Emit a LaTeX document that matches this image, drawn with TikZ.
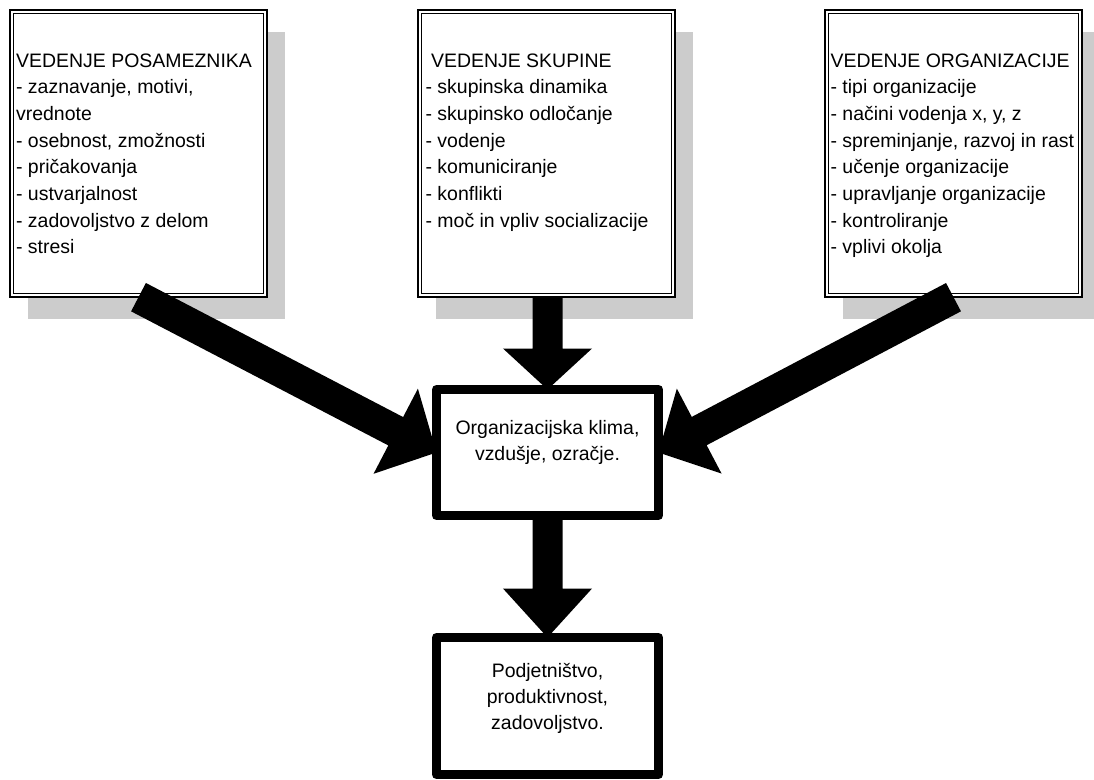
\documentclass[tikz,border=0pt]{standalone}
\usepackage{fontspec}
\setmainfont{Liberation Sans}
\usetikzlibrary{calc}
\definecolor{shadowgray}{RGB}{204,204,204}
\pgfdeclarelayer{bg}
\pgfdeclarelayer{fg}
\pgfsetlayers{bg,main,fg}
% block arrow: tail, tip, shaft half width, head half width, head length
\newcommand\fatarrow[5]{%
  \coordinate (fa-base) at ($(#2)!#5!(#1)$);
  \fill[black] ($(#1)!#3!90:(#2)$) -- ($(fa-base)!#3!90:(#2)$) -- ($(fa-base)!#4!90:(#2)$) -- (#2)
    -- ($(fa-base)!#4!-90:(#2)$) -- ($(fa-base)!#3!-90:(#2)$) -- ($(#1)!#3!-90:(#2)$) -- cycle;
}
\begin{document}
\begin{tikzpicture}[x=0.75pt,y=-0.75pt,
  topbox/.style={draw, line width=1.2pt, fill=white, minimum width=193pt, minimum height=215.5pt, inner sep=0pt, outer sep=0pt},
  midbox/.style={draw, line width=6.75pt, line join=round, fill=white, minimum width=166.5pt, inner sep=0pt, outer sep=0pt},
  listtext/.style={anchor=north west, align=left, inner sep=0pt, font=\fontsize{14.6pt}{20pt}\selectfont},
  centertext/.style={anchor=north, align=center, inner sep=0pt, font=\fontsize{14.6pt}{19.5pt}\selectfont},
  shadowbox/.style={fill=shadowgray},
  innerframe/.style={draw, line width=0.8pt}
]
\clip (0,0) rectangle (1094,780);

% top boxes
\node[topbox] (b1) at (138.5,153.5) {};
\node[topbox] (b2) at (546.5,153.5) {};
\node[topbox] (b3) at (953.5,153.5) {};
\foreach \b in {b1,b2,b3}{
  \draw[innerframe] ($(\b.north west)+(3.5,3.5)$) rectangle ($(\b.south east)+(-3.5,-3.5)$);
  \begin{pgfonlayer}{bg}
    \fill[shadowbox] ($(\b.north west)+(18,22)$) rectangle ($(\b.south east)+(18,22)$);
  \end{pgfonlayer}
}

% centre boxes
\begin{pgfonlayer}{fg}
  \node[midbox, minimum height=94.5pt] (c) at (547.5,452.5) {};
  \node[centertext] (tc) at ($(c.north)+(0,30.5)$) {Organizacijska klima,\\vzdušje, ozračje.};
  \node[midbox, minimum height=102.75pt] (d) at (547.5,706) {};
  \node[centertext] (td) at ($(d.north)+(0,25.5)$) {Podjetništvo,\\produktivnost,\\zadovoljstvo.};
\end{pgfonlayer}

% arrows
\fatarrow{b1.south}{c.west}{12pt}{36pt}{34.5pt}
\fatarrow{b3.south}{c.east}{12pt}{36pt}{34.5pt}
\coordinate (b2s) at (b2.south -| c.north);
\fatarrow{b2s}{c.north}{11.25pt}{33.4pt}{30.75pt}
\fatarrow{c.south}{d.north}{11.25pt}{33.4pt}{36.75pt}

% texts
\node[listtext] (t1) at ($(b1.north west)+(6,43.5)$) {VEDENJE POSAMEZNIKA\\- zaznavanje, motivi,\\vrednote\\- osebnost, zmožnosti\\- pričakovanja\\- ustvarjalnost\\- zadovoljstvo z delom\\- stresi};
\node[listtext] (t2) at ($(b2.north west)+(7.5,43.5)$) {\hspace*{0.28em}VEDENJE SKUPINE\\- skupinska dinamika\\- skupinsko odločanje\\- vodenje\\- komuniciranje\\- konflikti\\- moč in vpliv socializacije};
\node[listtext] (t3) at ($(b3.north west)+(5.5,43.5)$) {VEDENJE ORGANIZACIJE\\- tipi organizacije\\- načini vodenja x, y, z\\- spreminjanje, razvoj in rast\\- učenje organizacije\\- upravljanje organizacije\\- kontroliranje\\- vplivi okolja};
\end{tikzpicture}
\end{document}
